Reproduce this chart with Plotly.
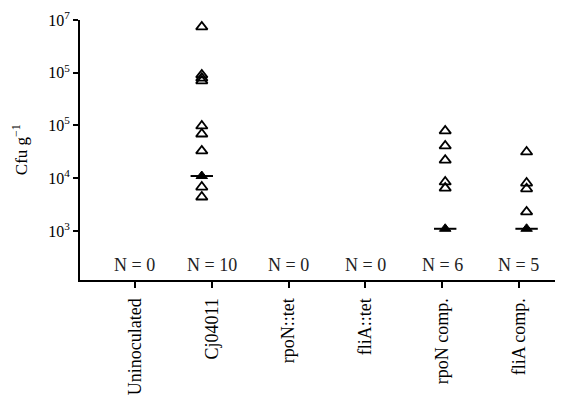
import plotly.graph_objects as go

categories = ["Uninoculated", "Cj04011", "rpoN::tet", "fliA::tet", "rpoN comp.", "fliA comp."]
n_labels = ["N = 0", "N = 10", "N = 0", "N = 0", "N = 6", "N = 5"]

# open-symbol values (cfu/g) per category
cj_open = [7.4e6, 9.1e5, 7.9e5, 7.0e5, 9.8e4, 6.9e4, 3.3e4, 6.8e3, 4.4e3]
cj_filled = [1.1e4]
rpon_open = [7.9e4, 4.1e4, 2.2e4, 8.5e3, 6.5e3]
rpon_filled = [1.1e3]
flia_open = [3.15e4, 8.1e3, 6.3e3, 2.3e3]
flia_filled = [1.1e3]

# horizontal placement of each point column (category index + drawn offset)
cj_pos = 1 - 0.13
rpon_pos = 4 + 0.04
flia_pos = 5 + 0.10

ytick_vals = [1e3, 1e4, 1e5, 1e6, 1e7]
ytick_text = ["10<sup>3</sup>", "10<sup>4</sup>", "10<sup>5</sup>", "10<sup>5</sup>", "10<sup>7</sup>"]

FONT = "Liberation Serif"

fig = go.Figure()

open_sets = [(cj_pos, cj_open), (rpon_pos, rpon_open), (flia_pos, flia_open)]
filled_sets = [(cj_pos, cj_filled), (rpon_pos, rpon_filled), (flia_pos, flia_filled)]

for pos, vals in open_sets:
    fig.add_trace(go.Scatter(
        x=[pos] * len(vals), y=vals, mode="markers",
        marker=dict(symbol="triangle-up-open", size=10, color="black",
                    line=dict(width=1.8, color="black")),
        showlegend=False, hoverinfo="y"))

for pos, vals in filled_sets:
    fig.add_trace(go.Scatter(
        x=[pos] * len(vals), y=vals, mode="markers",
        marker=dict(symbol="line-ew", size=16, color="black",
                    line=dict(width=2, color="black")),
        showlegend=False, hoverinfo="skip"))
    fig.add_trace(go.Scatter(
        x=[pos] * len(vals), y=vals, mode="markers",
        marker=dict(symbol="triangle-up", size=10, color="black",
                    line=dict(width=1, color="black")),
        showlegend=False, hoverinfo="y"))

for i, lab in enumerate(n_labels):
    fig.add_annotation(x=i, y=0.058, xref="x", yref="paper", text=lab,
                       showarrow=False, xanchor="center", yanchor="middle",
                       font=dict(family=FONT, size=18, color="#222"))

fig.add_annotation(x=-0.126, y=0.5, xref="paper", yref="paper",
                   text="Cfu g<sup>\u22121</sup>", textangle=-90, showarrow=False,
                   xanchor="center", yanchor="middle",
                   font=dict(family=FONT, size=17, color="black"))

# page body has an 8px default margin, so the figure is sized/offset to compensate
fig.update_layout(
    width=555, height=394,
    margin=dict(l=72, r=8, t=12, b=122),
    paper_bgcolor="white", plot_bgcolor="white",
    font=dict(family=FONT, color="black"),
    xaxis=dict(
        range=[-0.716, 5.47], tickmode="array", automargin=False,
        tickvals=list(range(len(categories))), ticktext=categories,
        tickangle=-90, ticks="outside", ticklen=6, tickwidth=2, tickcolor="black",
        showline=True, linecolor="black", linewidth=2, showgrid=False, zeroline=False,
        tickfont=dict(family=FONT, size=18, color="black"), ticklabelstandoff=3),
    yaxis=dict(
        type="log", range=[2.07, 7.0], tickmode="array", automargin=False,
        tickvals=ytick_vals, ticktext=ytick_text,
        ticks="outside", ticklen=5, tickwidth=2, tickcolor="black",
        showline=True, linecolor="black", linewidth=2, showgrid=False, zeroline=False,
        tickfont=dict(family=FONT, size=16, color="black")),
)

fig.write_html("out.html")
